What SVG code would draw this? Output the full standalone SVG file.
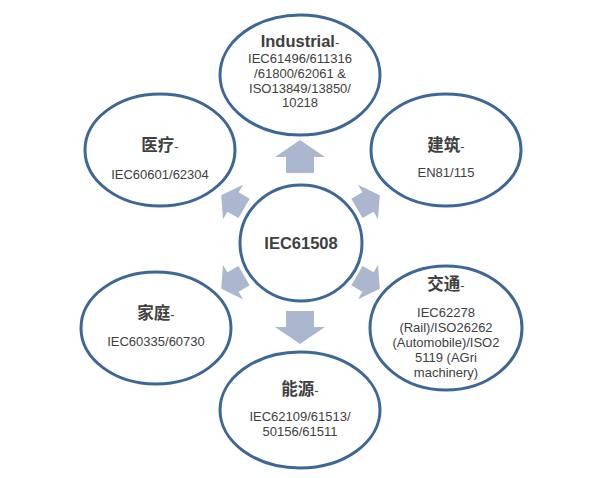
<svg xmlns="http://www.w3.org/2000/svg" width="600" height="478" viewBox="0 0 600 478">
<style>
.n{fill:#fff;stroke:#3c6797;stroke-width:3}
.a{fill:#aab7cf}
text{font-family:"Liberation Sans",Arial,"Noto Sans CJK SC",sans-serif;text-anchor:middle;fill:#404040}
.t{font-size:16.5px;font-weight:bold}
.s{font-size:13px}
</style>
<defs><polygon id="arr" points="0,-17 25,0 14,0 14,16 -14,16 -14,0 -25,0"/></defs>
<g id="connectors">
<use href="#arr" class="a" transform="translate(300,157)"/>
<use href="#arr" class="a" transform="translate(300,327) rotate(180)"/>
<use href="#arr" class="a" transform="translate(233,202) rotate(-60) scale(0.8)"/>
<use href="#arr" class="a" transform="translate(368,202) rotate(60) scale(0.8)"/>
<use href="#arr" class="a" transform="translate(233,282) rotate(-120) scale(0.8)"/>
<use href="#arr" class="a" transform="translate(368,282) rotate(120) scale(0.8)"/>
</g>
<g id="center"><ellipse class="n" cx="301" cy="243" rx="61" ry="58"/><text class="t" x="301" y="249">IEC61508</text></g>
<g id="industrial"><ellipse class="n" cx="300" cy="75" rx="80" ry="60"/>
<text x="300" y="47"><tspan class="t">Industrial</tspan><tspan class="s">-</tspan></text>
<text class="s"><tspan x="300" y="63">IEC61496/611316</tspan><tspan x="300" y="78">/61800/62061 &amp;</tspan><tspan x="300" y="93">ISO13849/13850/</tspan><tspan x="300" y="107">10218</tspan></text></g>
<g id="medical"><ellipse class="n" cx="160" cy="150" rx="75" ry="56"/>
<text x="160" y="151"><tspan class="t">医疗</tspan><tspan class="s">-</tspan></text>
<text class="s" x="160" y="179">IEC60601/62304</text></g>
<g id="building"><ellipse class="n" cx="446" cy="150" rx="75" ry="56"/>
<text x="446" y="151"><tspan class="t">建筑</tspan><tspan class="s">-</tspan></text>
<text class="s" x="446" y="177">EN81/115</text></g>
<g id="home"><ellipse class="n" cx="156" cy="328" rx="75" ry="56"/>
<text x="156" y="319"><tspan class="t">家庭</tspan><tspan class="s">-</tspan></text>
<text class="s" x="156" y="346">IEC60335/60730</text></g>
<g id="transport"><ellipse class="n" cx="446" cy="328" rx="76" ry="62"/>
<text x="446" y="290"><tspan class="t">交通</tspan><tspan class="s">-</tspan></text>
<text class="s"><tspan x="446" y="317">IEC62278</tspan><tspan x="446" y="332">(Rail)/ISO26262</tspan><tspan x="446" y="347">(Automobile)/ISO2</tspan><tspan x="446" y="362">5119 (AGri</tspan><tspan x="446" y="377">machinery)</tspan></text></g>
<g id="energy"><ellipse class="n" cx="300" cy="410" rx="80" ry="58"/>
<text x="300" y="395"><tspan class="t">能源</tspan><tspan class="s">-</tspan></text>
<text class="s"><tspan x="300" y="421">IEC62109/61513/</tspan><tspan x="300" y="436">50156/61511</tspan></text></g>
</svg>
